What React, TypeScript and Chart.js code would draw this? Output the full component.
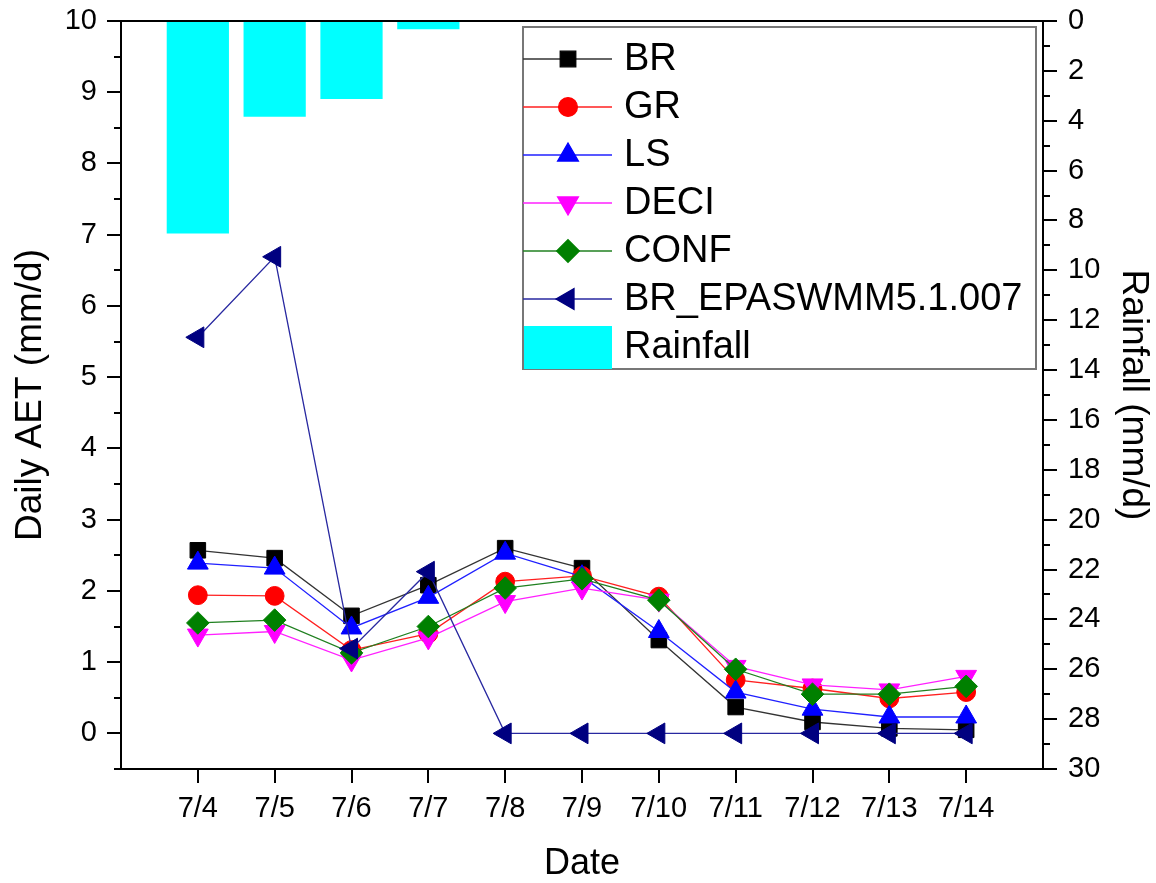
import React, { useEffect, useRef } from 'react';
import { Chart, registerables } from 'chart.js';
import { drawPoint } from 'chart.js/helpers';

Chart.register(...registerables);

// ---- data ----
const dates = ['7/4', '7/5', '7/6', '7/7', '7/8', '7/9', '7/10', '7/11', '7/12', '7/13', '7/14'];
const br = [2.57, 2.46, 1.65, 2.08, 2.6, 2.32, 1.31, 0.37, 0.16, 0.07, 0.05];
const gr = [1.94, 1.93, 1.17, 1.4, 2.13, 2.21, 1.92, 0.75, 0.63, 0.49, 0.58];
const ls = [2.39, 2.32, 1.48, 1.91, 2.53, 2.2, 1.43, 0.58, 0.34, 0.23, 0.23];
const deci = [1.38, 1.43, 1.03, 1.34, 1.85, 2.04, 1.87, 0.94, 0.68, 0.61, 0.8];
const conf = [1.55, 1.59, 1.13, 1.5, 2.04, 2.17, 1.87, 0.9, 0.55, 0.55, 0.66];
const brSwmm = [5.56, 6.69, 1.19, 2.27, 0, 0, 0, 0, 0, 0, 0];
const rainfall = [8.52, 3.84, 3.13, 0.33, 0, 0, 0, 0, 0, 0, 0];

const FONT = "'Liberation Sans', Arial, Helvetica, sans-serif";

const series = [
  { label: 'BR', data: br, color: '#000000', line: '#333333', pointStyle: 'rect', radius: 11, rotation: 0 },
  { label: 'GR', data: gr, color: '#FF0000', line: '#FF2020', pointStyle: 'circle', radius: 9.4, rotation: 0 },
  { label: 'LS', data: ls, color: '#0000FF', line: '#2020FF', pointStyle: 'triangle', radius: 12, rotation: 0 },
  { label: 'DECI', data: deci, color: '#FF00FF', line: '#FF20FF', pointStyle: 'triangle', radius: 12, rotation: 180 },
  { label: 'CONF', data: conf, color: '#008000', line: '#208020', pointStyle: 'rectRot', radius: 11.3, rotation: 0 },
  { label: 'BR_EPASWMM5.1.007', data: brSwmm, color: '#000080', line: '#2828A0', pointStyle: 'triangle', radius: 12, rotation: -90 },
];
const rainColor = '#00FFFF';

const xLabels = ['', ...dates, ''];
const pad = (a: number[]) => [null, ...a, null];

const frameTicksPlugin = {
  id: 'frameTicks',
  afterDraw(chart: any) {
    const { ctx, chartArea: ca, scales } = chart;
    ctx.save();
    ctx.strokeStyle = '#000';
    ctx.lineWidth = 2;
    ctx.strokeRect(ca.left, ca.top, ca.right - ca.left, ca.bottom - ca.top);
    ctx.beginPath();
    const y = scales.y;
    for (let v = -0.5; v <= 10.001; v += 0.5) {
      const py = Math.round(y.getPixelForValue(v));
      const len = Math.abs(v - Math.round(v)) < 1e-6 ? 14 : 7;
      ctx.moveTo(ca.left, py);
      ctx.lineTo(ca.left - len, py);
    }
    const y2 = scales.y2;
    for (let v = 0; v <= 30; v += 1) {
      const py = Math.round(y2.getPixelForValue(v));
      const len = v % 2 === 0 ? 14 : 7;
      ctx.moveTo(ca.right, py);
      ctx.lineTo(ca.right + len, py);
    }
    const x = scales.x;
    for (let i = 1; i <= dates.length; i++) {
      const px = Math.round(x.getPixelForValue(i));
      ctx.moveTo(px, ca.bottom);
      ctx.lineTo(px, ca.bottom + 14);
    }
    ctx.stroke();
    ctx.restore();
  },
};

const legendPlugin = {
  id: 'boxLegend',
  afterDraw(chart: any) {
    const { ctx } = chart;
    const L = 523, T = 27, R = 1036, B = 369;
    const rowH = 48;
    const firstY = 59;
    ctx.save();
    ctx.fillStyle = '#fff';
    ctx.fillRect(L, T, R - L, B - T);
    ctx.strokeStyle = '#777';
    ctx.lineWidth = 2;
    ctx.strokeRect(L, T, R - L, B - T);
    ctx.font = `38px ${FONT}`;
    ctx.textBaseline = 'middle';
    ctx.textAlign = 'left';
    series.forEach((s, i) => {
      const cy = firstY + i * rowH;
      ctx.strokeStyle = s.line;
      ctx.lineWidth = 1.3;
      ctx.beginPath();
      ctx.moveTo(L, cy);
      ctx.lineTo(612, cy);
      ctx.stroke();
      ctx.fillStyle = s.color;
      ctx.strokeStyle = s.color;
      drawPoint(ctx, { pointStyle: s.pointStyle, rotation: s.rotation, radius: s.radius, borderWidth: 1 }, 568, cy);
      ctx.fillStyle = '#000';
      ctx.fillText(s.label, 624, cy + 1);
    });
    const ry = firstY + series.length * rowH;
    ctx.fillStyle = rainColor;
    ctx.fillRect(L + 1, ry - 21, 612 - L - 1, 43);
    ctx.fillStyle = '#000';
    ctx.fillText('Rainfall', 624, ry + 1);
    ctx.restore();
  },
};

export default function App() {
  const ref = useRef<HTMLCanvasElement | null>(null);
  useEffect(() => {
    if (!ref.current) return;
    const lineSets = series.map((s, i) => ({
      type: 'line' as const,
      label: s.label,
      data: pad(s.data),
      yAxisID: 'y',
      borderColor: s.line,
      backgroundColor: s.color,
      borderWidth: 1.3,
      pointStyle: s.pointStyle,
      pointRotation: s.rotation,
      pointRadius: s.radius,
      pointBackgroundColor: s.color,
      pointBorderColor: s.color,
      pointBorderWidth: 1,
      tension: 0,
      order: series.length - i,
    }));
    const chart = new Chart(ref.current, {
      type: 'line',
      data: {
        labels: xLabels,
        datasets: [
          ...lineSets,
          {
            type: 'bar' as const,
            label: 'Rainfall',
            data: pad(rainfall),
            yAxisID: 'y2',
            backgroundColor: rainColor,
            borderWidth: 0,
            categoryPercentage: 0.9,
            barPercentage: 0.9,
            order: 10,
          } as any,
        ],
      },
      options: {
        animation: false,
        responsive: true,
        maintainAspectRatio: false,
        layout: { padding: { top: 21, left: 0, right: 0, bottom: 0 } },
        plugins: { legend: { display: false }, tooltip: { enabled: false } },
        scales: {
          x: {
            type: 'category',
            offset: false,
            grid: { display: false, drawTicks: true, tickLength: 14 },
            border: { display: false },
            ticks: {
              autoSkip: false,
              maxRotation: 0,
              minRotation: 0,
              padding: 9,
              color: '#000',
              font: { family: FONT, size: 29 },
            },
            title: {
              display: true,
              text: 'Date',
              color: '#000',
              font: { family: FONT, size: 36 },
              padding: { top: 0, bottom: -3 },
            },
            afterFit: (s: any) => {
              s.height = 114;
              s.paddingLeft = 0;
              s.paddingRight = 0;
            },
          },
          y: {
            position: 'left',
            min: -0.5,
            max: 10,
            grid: { display: false, drawTicks: true, tickLength: 14 },
            border: { display: false },
            ticks: {
              stepSize: 1,
              padding: 10,
              color: '#000',
              font: { family: FONT, size: 29 },
              callback: (v: any) => (Number.isInteger(Number(v)) ? String(v) : ''),
            },
            title: {
              display: true,
              text: 'Daily AET (mm/d)',
              color: '#000',
              font: { family: FONT, size: 37 },
              padding: { top: 9, bottom: 0 },
            },
            afterFit: (s: any) => {
              s.width = 121;
              s.paddingTop = 0;
              s.paddingBottom = 0;
            },
          },
          y2: {
            position: 'right',
            reverse: true,
            min: 0,
            max: 30,
            grid: { display: false, drawTicks: true, tickLength: 14 },
            border: { display: false },
            ticks: {
              stepSize: 2,
              padding: 11,
              color: '#000',
              font: { family: FONT, size: 29 },
            },
            title: {
              display: true,
              text: 'Rainfall (mm/d)',
              color: '#000',
              font: { family: FONT, size: 37 },
              padding: { top: 1, bottom: 0 },
            },
            afterFit: (s: any) => {
              s.width = 113;
              s.paddingTop = 0;
              s.paddingBottom = 0;
            },
          },
        },
      } as any,
      plugins: [frameTicksPlugin, legendPlugin],
    });
    return () => chart.destroy();
  }, []);
  return (
    <div style={{ position: 'fixed', left: 0, top: 0, width: 1156, height: 883, background: '#fff' }}>
      <canvas ref={ref} />
    </div>
  );
}
